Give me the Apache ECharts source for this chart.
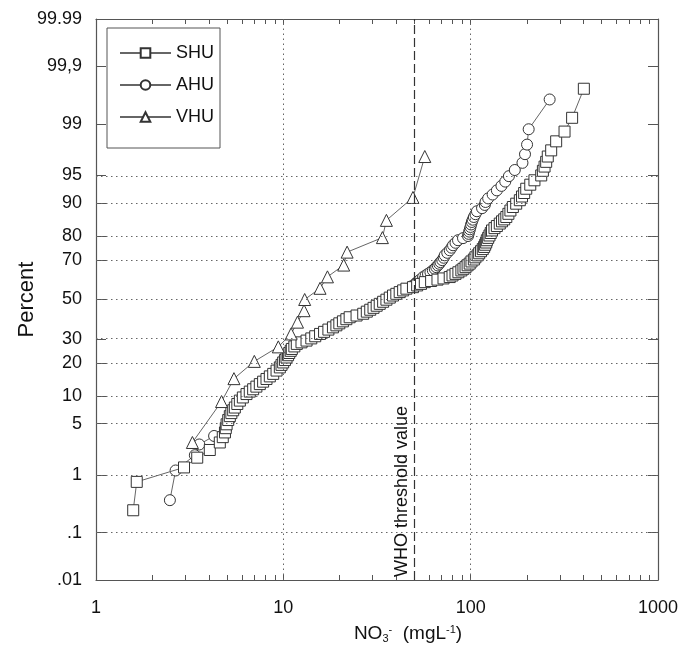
<!DOCTYPE html>
<html>
<head>
<meta charset="utf-8">
<script src="https://cdn.jsdelivr.net/npm/echarts@6/dist/echarts.min.js"></script>
<style>
  html, body { margin: 0; padding: 0; background: #fff; }
  #chart { width: 694px; height: 645px; }
</style>
</head>
<body>
<div id="chart"></div>
<script>
// probability axis ticks (percent) and their printed labels
var percentTicks = [0.01, 0.1, 1, 5, 10, 20, 30, 50, 70, 80, 90, 95, 99, 99.9, 99.99];
var percentLabels = ['.01', '.1', '1', '5', '10', '20', '30', '50', '70', '80', '90', '95', '99', '99,9', '99.99'];
var percentGrid = [0.1, 1, 5, 10, 20, 30, 50, 70, 80, 90, 95];

var xTicks = [1, 2, 3, 4, 5, 6, 7, 8, 9, 10, 20, 30, 40, 50, 60, 70, 80, 90, 100, 200, 300, 400, 500, 600, 700, 800, 900, 1000];
var xLabels = [1, 10, 100, 1000];
var xGrid = [10, 100];
var whoLimit = 50;

// SHU: NO3 (mg/L) and cumulative percent
var shuNO3 = [1.58, 1.65, 2.95, 3.47, 4.05, 4.58, 4.75, 4.88, 4.93, 4.98, 5.08, 5.18, 5.28, 5.40, 5.51, 5.68, 5.86, 6.08, 6.36, 6.62,
  6.90, 7.18, 7.49, 7.80, 8.13, 8.47, 8.83, 9.20, 9.58, 9.78, 9.98, 10.2, 10.4, 10.6, 10.75, 10.95, 11.1, 11.45, 11.8, 12.5,
  13.3, 14.1, 14.8, 15.7, 16.5, 17.4, 18.4, 19.2, 19.9, 20.8, 21.7, 22.6, 24.6, 26.7, 27.9, 29.1, 30.3, 31.5, 32.7, 34.1,
  35.5, 37.0, 38.5, 40.1, 41.8, 43.6, 45.4, 49.2, 51.8, 54.3, 56.9, 61.5, 66.5, 71.6, 77.3, 80.0, 83.0, 86.0, 89.2, 91.5,
  93.9, 96.3, 98.8, 101, 104, 106, 109, 111, 113.5, 116, 118, 119.5, 121, 122, 124, 126, 128, 130, 134, 138,
  143, 147, 151, 155, 159, 163, 168, 175, 183, 188, 193, 198, 208, 219, 238, 243, 248, 253, 258, 269,
  286, 317, 348, 402];
var shuPct = [0.26, 0.78, 1.3, 1.8, 2.3, 2.9, 3.4, 3.9, 4.4, 4.9, 5.5, 6.1, 6.6, 7.1, 7.6, 8.3, 9.0, 9.7, 10.5, 11.1,
  11.7, 12.4, 13.1, 13.8, 14.6, 15.4, 16.2, 17.3, 18.4, 19.3, 20.2, 21.1, 22.1, 23.0, 23.9, 24.8, 25.6, 26.7, 27.8, 28.5,
  29.3, 30.3, 31.3, 32.4, 33.4, 34.5, 35.6, 36.6, 37.6, 38.6, 39.7, 40.7, 41.6, 42.5, 43.6, 44.6, 45.6, 46.7, 47.7, 48.8,
  49.9, 51.0, 52.1, 53.0, 53.9, 54.8, 55.7, 56.5, 57.4, 58.2, 59.1, 59.7, 60.4, 61.0, 61.7, 62.5, 63.3, 64.1, 65.0, 65.8,
  66.6, 67.5, 68.3, 69.3, 70.2, 71.2, 72.1, 73.0, 73.9, 74.8, 75.7, 76.6, 77.5, 78.4, 79.3, 80.2, 81.1, 82.0, 82.8, 83.5,
  84.3, 85.0, 85.6, 86.3, 87.2, 88.1, 89.0, 89.8, 90.6, 91.4, 92.1, 92.9, 93.6, 94.3, 95.0, 95.6, 96.1, 96.6, 97.1, 97.6,
  98.2, 98.7, 99.2, 99.74];

// AHU
var ahuNO3 = [2.48, 2.66, 3.37, 3.56, 4.27, 4.95, 5.15, 5.45, 5.80, 6.25, 6.85, 7.55, 8.20, 8.90, 9.45, 9.80, 10.2, 10.55, 10.85, 11.2,
  11.7, 13.0, 14.2, 15.5, 16.8, 18.0, 19.3, 20.5, 21.9, 24.0, 27.3, 28.8, 30.5, 32.5, 34.5, 36.3, 38.8, 41.8, 44.8, 48.5,
  51.0, 52.4, 53.5, 55.7, 57.5, 59.2, 61.0, 62.8, 64.3, 65.5, 66.8, 68.0, 69.0, 70.5, 71.8, 72.7, 75.0, 77.3, 79.0, 80.5,
  83.0, 85.6, 91.0, 96.8, 97.5, 98.2, 99.0, 99.8, 100.5, 101.5, 102.5, 104, 106, 108, 115, 119, 120, 124, 131, 138,
  146, 153, 160, 172, 189, 195, 200, 204, 264];
var ahuPct = [0.39, 1.17, 1.95, 2.73, 3.52, 4.3, 5.5, 7.0, 8.6, 10.2, 11.7, 13.3, 14.8, 16.4, 18.0, 19.5, 21.1, 22.7, 24.2, 25.8,
  27.3, 28.9, 30.5, 32.0, 33.6, 35.2, 36.7, 38.3, 39.8, 41.4, 43.0, 44.5, 46.1, 47.7, 49.2, 50.8, 52.3, 53.9, 55.5, 57.0,
  58.6, 59.4, 60.2, 61.7, 62.5, 63.3, 64.1, 65.0, 65.8, 66.6, 67.4, 68.2, 69.0, 69.9, 71.0, 72.1, 73.2, 74.3, 75.4, 76.4,
  77.4, 78.4, 79.2, 80.0, 80.8, 81.6, 82.4, 83.2, 84.0, 84.8, 85.5, 86.3, 87.1, 87.9, 88.7, 89.5, 90.2, 91.0, 91.8, 92.6,
  93.4, 94.1, 94.9, 95.7, 96.5, 97.3, 98.0, 98.8, 99.6];

// VHU
var vhuNO3 = [3.27, 4.68, 5.45, 7.0, 9.4, 11.0, 11.9, 12.9, 13.0, 15.7, 17.2, 21.0, 21.9, 33.8, 35.5, 49.2, 56.9];
var vhuPct = [2.9, 8.8, 14.7, 20.6, 26.5, 32.4, 38.2, 44.1, 50.0, 55.9, 61.8, 67.6, 73.5, 79.4, 85.3, 91.2, 97.1];

// inverse normal CDF (Acklam) - maps percent onto the probability axis
function probit(p) {
  var a = [-3.969683028665376e+01, 2.209460984245205e+02, -2.759285104469687e+02, 1.383577518672690e+02, -3.066479806614716e+01, 2.506628277459239e+00];
  var b = [-5.447609879822406e+01, 1.615858368580409e+02, -1.556989798598866e+02, 6.680131188771972e+01, -1.328068155288572e+01];
  var c = [-7.784894002430293e-03, -3.223964580411365e-01, -2.400758277161838e+00, -2.549671348400521e+00, 4.374664141464968e+00, 2.938163982698783e+00];
  var d = [7.784695709041462e-03, 3.224671290700398e-01, 2.445134137142996e+00, 3.754408661907416e+00];
  var plow = 0.02425, q, r;
  if (p < plow) {
    q = Math.sqrt(-2 * Math.log(p));
    return (((((c[0]*q + c[1])*q + c[2])*q + c[3])*q + c[4])*q + c[5]) / ((((d[0]*q + d[1])*q + d[2])*q + d[3])*q + 1);
  }
  if (p <= 1 - plow) {
    q = p - 0.5; r = q * q;
    return (((((a[0]*r + a[1])*r + a[2])*r + a[3])*r + a[4])*r + a[5])*q / (((((b[0]*r + b[1])*r + b[2])*r + b[3])*r + b[4])*r + 1);
  }
  q = Math.sqrt(-2 * Math.log(1 - p));
  return -(((((c[0]*q + c[1])*q + c[2])*q + c[3])*q + c[4])*q + c[5]) / ((((d[0]*q + d[1])*q + d[2])*q + d[3])*q + 1);
}
function z(pct) { return probit(pct / 100); }

function toPoints(xs, ps) {
  var out = [];
  for (var i = 0; i < xs.length; i++) out.push([xs[i], z(ps[i])]);
  return out;
}

var tickZ = percentTicks.map(z);
var zMin = tickZ[0], zMax = tickZ[tickZ.length - 1];

function yLabel(v) {
  var best = 0;
  for (var i = 1; i < tickZ.length; i++) {
    if (Math.abs(tickZ[i] - v) < Math.abs(tickZ[best] - v)) best = i;
  }
  return percentLabels[best];
}

var FONT = 'Liberation Sans, Arial, sans-serif';
var AXIS_COLOR = '#555';

var markerStyle = { color: '#fff', borderColor: '#333', borderWidth: 1 };
var seriesLine = { color: '#666', width: 1 };

var gridLines = [];
percentGrid.forEach(function (p) { gridLines.push({ yAxis: z(p) }); });
xGrid.forEach(function (x) { gridLines.push({ xAxis: x }); });

var chart = echarts.init(document.getElementById('chart'), null, { renderer: 'canvas' });

var option = {
  animation: false,
  backgroundColor: '#fff',
  textStyle: { fontFamily: FONT },
  grid: { left: 96, right: 36, top: 19, bottom: 65, containLabel: false, outerBoundsMode: 'none' },
  legend: {
    data: ['SHU', 'AHU', 'VHU'],
    orient: 'vertical',
    left: 107,
    top: 28,
    padding: [16, 6, 22, 12],
    itemWidth: 51,
    itemHeight: 12,
    itemGap: 14,
    borderColor: '#555',
    borderWidth: 1,
    backgroundColor: '#fff',
    textStyle: { fontSize: 18, color: '#111', fontFamily: FONT }
  },
  xAxis: [{
    type: 'log',
    logBase: 10,
    min: 1,
    max: 1000,
    name: '{a|NO}{s|3}{p|-}{a|  (mgL}{p|-1}{a|)}',
    nameLocation: 'middle',
    nameGap: 44,
    nameMoveOverlap: false,
    nameTextStyle: {
      padding: [0, 0, 0, 62],
      rich: {
        a: { fontSize: 19, color: '#111', fontFamily: FONT, lineHeight: 20, verticalAlign: 'middle' },
        s: { fontSize: 11, color: '#111', fontFamily: FONT, lineHeight: 20, verticalAlign: 'bottom' },
        p: { fontSize: 11, color: '#111', fontFamily: FONT, lineHeight: 20, verticalAlign: 'top' }
      }
    },
    axisLine: { show: true, onZero: false, lineStyle: { color: AXIS_COLOR, width: 1.2 } },
    axisTick: { show: true, inside: true, length: 5, customValues: xTicks, lineStyle: { color: AXIS_COLOR } },
    minorTick: { show: false },
    axisLabel: {
      customValues: xLabels,
      margin: 19,
      fontSize: 18,
      color: '#111',
      fontFamily: FONT,
      formatter: function (v) { return String(Math.round(v)); }
    },
    splitLine: { show: false }
  }, {
    type: 'log',
    logBase: 10,
    min: 1,
    max: 1000,
    position: 'top',
    axisLine: { show: true, onZero: false, lineStyle: { color: AXIS_COLOR, width: 1.2 } },
    axisTick: { show: true, inside: true, length: 5, customValues: xTicks, lineStyle: { color: AXIS_COLOR } },
    axisLabel: { show: false },
    splitLine: { show: false }
  }],
  yAxis: [{
    type: 'value',
    min: zMin,
    max: zMax,
    name: 'Percent',
    nameLocation: 'middle',
    nameGap: 58,
    nameRotate: 90,
    nameMoveOverlap: false,
    nameTextStyle: { fontSize: 22, color: '#111', fontFamily: FONT },
    axisLine: { show: true, onZero: false, lineStyle: { color: AXIS_COLOR, width: 1.2 } },
    axisTick: { show: true, inside: true, length: 10, customValues: tickZ, lineStyle: { color: AXIS_COLOR } },
    axisLabel: {
      customValues: tickZ,
      margin: 14,
      fontSize: 18,
      color: '#111',
      fontFamily: FONT,
      formatter: yLabel
    },
    splitLine: { show: false }
  }, {
    type: 'value',
    min: zMin,
    max: zMax,
    position: 'right',
    axisLine: { show: true, onZero: false, lineStyle: { color: AXIS_COLOR, width: 1.2 } },
    axisTick: { show: true, inside: true, length: 10, customValues: tickZ, lineStyle: { color: AXIS_COLOR } },
    axisLabel: { show: false },
    splitLine: { show: false }
  }],
  series: [
    {
      // grid and threshold lines
      name: 'grid',
      type: 'line',
      data: [],
      z: 1,
      silent: true,
      markLine: {
        silent: true,
        symbol: ['none', 'none'],
        animation: false,
        label: { show: false },
        lineStyle: { color: '#666', width: 1, type: [1.5, 3.5] },
        data: gridLines.concat([{
          xAxis: whoLimit,
          lineStyle: { color: '#333', width: 1.2, type: [9, 4] },
          label: {
            show: true,
            position: 'insideStartTop',
            formatter: 'WHO threshold value',
            fontSize: 18,
            color: '#111',
            fontFamily: FONT,
            distance: 3
          }
        }])
      }
    },
    {
      name: 'AHU',
      type: 'line',
      z: 2,
      data: toPoints(ahuNO3, ahuPct),
      symbol: 'circle',
      symbolSize: 11,
      showAllSymbol: true,
      itemStyle: markerStyle,
      lineStyle: seriesLine
    },
    {
      name: 'SHU',
      type: 'line',
      z: 3,
      data: toPoints(shuNO3, shuPct),
      symbol: 'rect',
      symbolSize: 11,
      showAllSymbol: true,
      itemStyle: markerStyle,
      lineStyle: seriesLine
    },
    {
      name: 'VHU',
      type: 'line',
      z: 4,
      data: toPoints(vhuNO3, vhuPct),
      symbol: 'triangle',
      symbolSize: 12,
      showAllSymbol: true,
      itemStyle: markerStyle,
      lineStyle: seriesLine
    }
  ]
};

chart.setOption(option);
</script>
</body>
</html>
